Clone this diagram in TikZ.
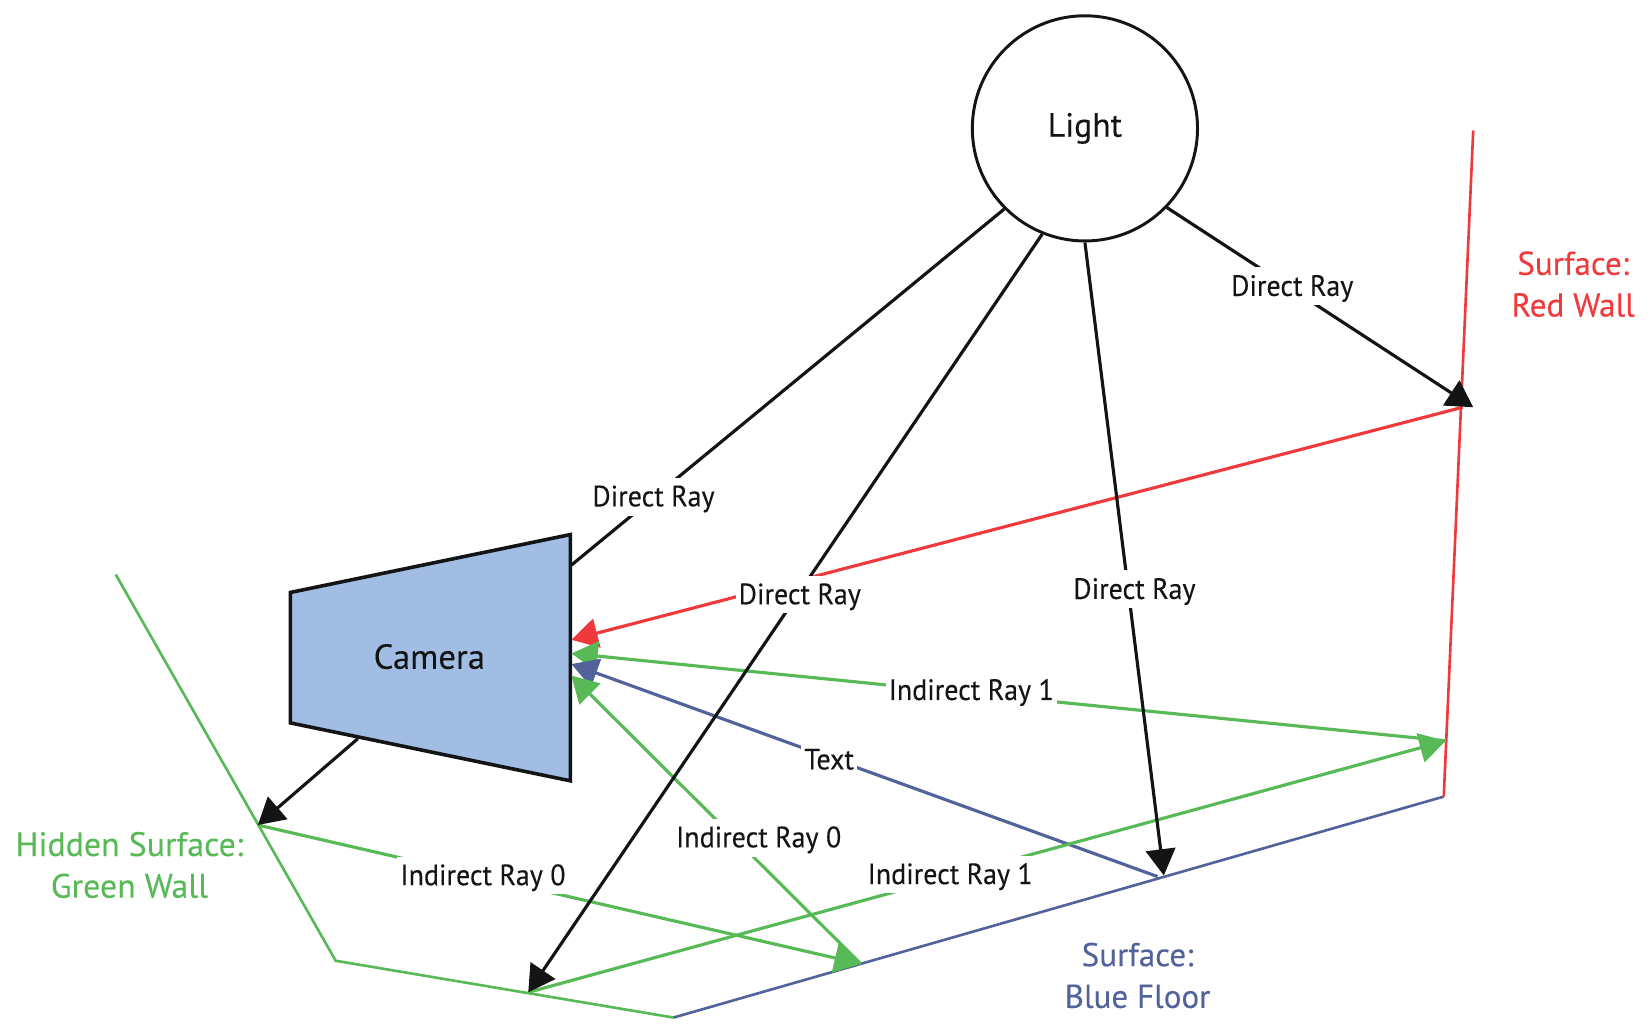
\documentclass[tikz,border=0pt]{standalone}
\usepackage{fontspec}
\setmainfont{PT Sans}
\newfontfamily\rayfont[FakeStretch=0.95,FakeBold=0.15]{PT Sans}
\newfontfamily\bigfont[FakeBold=0.15]{PT Sans}
\usetikzlibrary{arrows.meta}
\definecolor{rwall}{HTML}{EE3A3D}
\definecolor{gwall}{HTML}{58B957}
\definecolor{bfloor}{HTML}{52639B}
\definecolor{camfill}{HTML}{A2BDE3}
\definecolor{ink}{HTML}{121416}
\tikzset{
  x=0.5pt,y=-0.5pt,
  tip/.style={-{Triangle[length=12.5pt,width=14pt]}},
  ray/.style={line width=1.5pt,draw=ink},
  wall/.style={line width=1.25pt,line join=miter},
  cray/.style={line width=1.5pt},
  lbl/.style={fill=white,inner xsep=1.5pt,inner ysep=0pt,text height=11.6pt,text depth=2.4pt,minimum height=18pt,font=\rayfont\fontsize{14}{16}\selectfont,text=ink},
  surf/.style={align=center,inner sep=0pt,font=\bigfont\fontsize{15.7}{19.8}\selectfont},
}
\begin{document}
\begin{tikzpicture}
\useasboundingbox (0,0) rectangle (1568,983.6);
% named points
\coordinate (gtop) at (110,546);
\coordinate (gbend) at (319,913);
\coordinate (corner) at (640,967);
\coordinate (fright) at (1372,757);
\coordinate (rtop) at (1400,124);
\coordinate (gwallhit) at (245,784);
\coordinate (gfloorhit) at (502,943);
\coordinate (bhit) at (1106,832);
\coordinate (bhitb) at (1100,833);
\coordinate (ghit) at (818,916);
\coordinate (rhit) at (1400,387);
\coordinate (rstart) at (1390,387);
\coordinate (rghit) at (1374,704);
\coordinate (camA) at (276,563);
\coordinate (camB) at (542,508);
\coordinate (camC) at (542,742);
\coordinate (camD) at (276,687);
\coordinate (camray) at (543,537);
\coordinate (camout) at (340,702);
\coordinate (camR) at (543,608);
\coordinate (camG) at (543,621);
\coordinate (camT) at (543,631);
\coordinate (camL) at (543,642);
% walls
\draw[wall,gwall] (gtop) -- (gbend) -- (corner);
\draw[wall,bfloor] (corner) -- (fright);
\draw[wall,rwall] (fright) -- (rtop);
% camera and light
\draw[line width=1.7pt,ink,fill=camfill,line join=miter] (camA) -- (camB) -- (camC) -- (camD) -- cycle;
\node[circle,draw=ink,line width=1.4pt,minimum size=107pt,inner sep=0pt,font=\bigfont\fontsize{16}{18}\selectfont,text=ink] (light) at (1031,122) {\raisebox{-1.3pt}{Light}};
\node[inner sep=0pt,font=\bigfont\fontsize{16.5}{18}\selectfont,text=ink] (camera) at (408,624) {Camera};
% rays
\draw[cray,rwall,tip] (rstart) -- (camR);
\draw[cray,gwall,tip] (rghit) -- (camG);
\draw[cray,bfloor,tip] (bhitb) -- (camT);
\draw[cray,gwall,tip] (ghit) -- (camL);
\draw[cray,gwall,tip] (gwallhit) -- (ghit);
\draw[cray,gwall,tip] (gfloorhit) -- (rghit);
\draw[ray] (light.225) -- (camray);
\draw[ray,tip] (light.248) -- (gfloorhit);
\draw[ray,tip] (light.270) -- (bhit);
\draw[ray,tip] (light.316) -- (rhit);
\draw[ray,tip] (camout) -- (gwallhit);
% ray labels
\node[lbl] (d1) at (621,472) {Direct Ray};
\node[lbl] (d2) at (760,565) {Direct Ray};
\node[lbl] (d3) at (1078,560) {Direct Ray};
\node[lbl] (d4) at (1228,272) {Direct Ray};
\node[lbl] (i0a) at (459,832) {Indirect Ray 0};
\node[lbl] (i0b) at (721,796) {Indirect Ray 0};
\node[lbl] (i1a) at (923,656) {Indirect Ray 1};
\node[lbl] (i1b) at (903,831) {Indirect Ray 1};
\node[lbl] (txt) at (788,722) {Text};
% surface labels
\node[surf,text=gwall,font=\bigfont\fontsize{16.1}{19.8}\selectfont] (sg) at (123,822) {Hidden Surface:\\Green Wall};
\node[surf,text=rwall] (sr) at (1495,270) {Surface:\\Red Wall};
\node[surf,text=bfloor] (sb) at (1081,927) {Surface:\\Blue Floor};
\end{tikzpicture}
\end{document}
